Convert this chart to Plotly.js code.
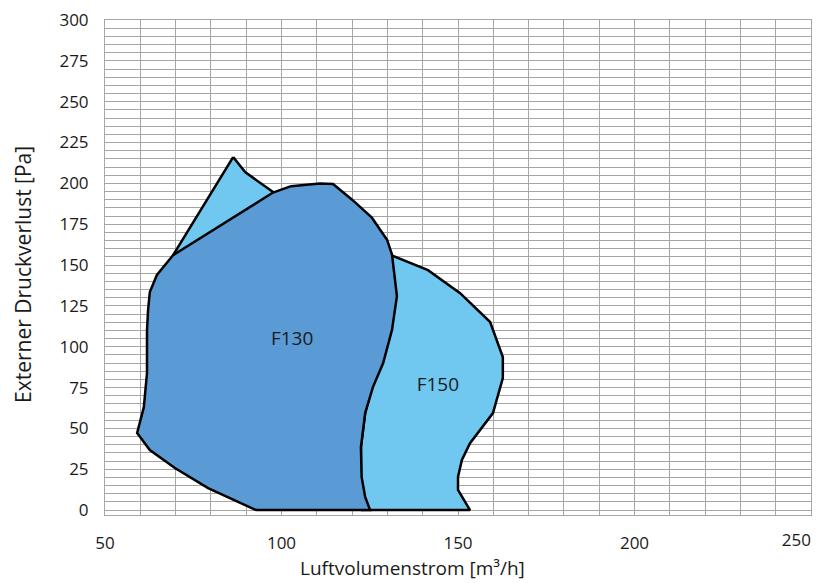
<!DOCTYPE html>
<html>
<head>
<meta charset="utf-8">
<script src="https://cdn.plot.ly/plotly-3.0.1.min.js"></script>
<style>html,body{margin:0;padding:0;background:#fff;}#chart{width:819px;height:583px;}</style>
</head>
<body>
<div id="chart"></div>
<script>
// F150 envelope (light blue), drawn first
const f150X = [86.3, 89.7, 97.6, 127.9, 131.0, 141.5, 150.6, 159.1, 162.7, 162.7, 159.9, 156.8, 153.4, 151.1, 150.0, 150.0, 153.4, 122.8, 122.5, 122.5, 123.7, 125.9, 69.3, 86.3];
const f150Y = [216.1, 206.9, 194.7, 159.2, 156.1, 146.9, 132.8, 115.1, 93.7, 80.8, 59.4, 50.8, 41.0, 30.7, 20.3, 12.3, 0, 0, 20.3, 38.6, 59.4, 77.7, 156.1, 216.1];

// F130 envelope (dark blue), drawn on top
const f130X = [92.8, 79.2, 69.8, 62.7, 59.1, 61.0, 61.9, 61.9, 62.2, 62.7, 64.7, 69.3, 97.6, 102.7, 110.9, 114.6, 120.0, 125.6, 129.9, 131.3, 132.7, 131.3, 128.8, 125.9, 123.7, 122.5, 122.7, 123.7, 125.1, 92.8];
const f130Y = [0, 13.5, 25.8, 36.8, 47.2, 63.0, 83.9, 110.2, 122.5, 133.5, 143.9, 156.1, 194.4, 198.3, 199.9, 199.6, 190.0, 179.0, 165.5, 156.4, 131.0, 110.2, 90.0, 75.3, 59.4, 38.6, 20.3, 8.0, 0, 0];

const labelNames = ["F130", "F150"];
const labelX = [103, 144.3];
const labelY = [104, 76];

const xTickVals = [50, 100, 150, 200];
const xTickText = ["50", "100", "150", "200"];
const xEndTickVals = [250];
const xEndTickText = ["250"];
const yTickVals = [0, 25, 50, 75, 100, 125, 150, 175, 200, 225, 250, 275, 300];

const xTitle = 'Luftvolumenstrom [m³/h]';
const yTitle = 'Externer Druckverlust [Pa]';

const font = "'Open Sans', 'Noto Sans', sans-serif";

const traces = [
  {x: f150X, y: f150Y, type: 'scatter', mode: 'lines', fill: 'toself',
   fillcolor: 'rgb(112,200,240)', line: {color: '#000', width: 2.5}, hoverinfo: 'skip', showlegend: false},
  {x: f130X, y: f130Y, type: 'scatter', mode: 'lines', fill: 'toself',
   fillcolor: 'rgb(91,155,213)', line: {color: '#000', width: 2.5}, hoverinfo: 'skip', showlegend: false},
  {x: labelX, y: labelY, text: labelNames, type: 'scatter', mode: 'text', xaxis: 'x2', yaxis: 'y',
   textfont: {family: font, size: 19, color: '#1a1a1a'}, hoverinfo: 'skip', showlegend: false}
];

const layout = {
  width: 819, height: 583,
  margin: {l: 105, r: 8, t: 20, b: 68},
  paper_bgcolor: '#fff', plot_bgcolor: '#fff',
  showlegend: false,
  font: {family: font, size: 17, color: '#1a1a1a'},
  xaxis: {
    range: [50, 250], tickvals: xTickVals, ticktext: xTickText,
    showgrid: true, gridcolor: '#a6a6a6', gridwidth: 1,
    minor: {dtick: 10, tick0: 50, showgrid: true, gridcolor: '#a6a6a6', gridwidth: 1},
    showline: true, linecolor: '#a6a6a6', linewidth: 1, mirror: true,
    zeroline: false, ticks: '', ticklabelstandoff: 13,
    tickfont: {family: font, size: 17, color: '#1a1a1a'}
  },
  xaxis2: {
    range: [50, 250], overlaying: 'x', anchor: 'y', side: 'bottom',
    tickvals: xEndTickVals, ticktext: xEndTickText,
    showgrid: false, showline: false, zeroline: false, ticks: '',
    ticklabelposition: 'outside left', ticklabeloverflow: 'allow', ticklabelstandoff: 13,
    tickfont: {family: font, size: 17, color: '#1a1a1a'}
  },
  yaxis: {
    range: [-3, 300], tickvals: yTickVals,
    showgrid: true, gridcolor: '#a6a6a6', gridwidth: 1,
    minor: {dtick: 5, tick0: 0, showgrid: true, gridcolor: '#a6a6a6', gridwidth: 1},
    showline: true, linecolor: '#a6a6a6', linewidth: 1, mirror: true,
    zeroline: false, ticks: '', ticklabelstandoff: 12,
    tickfont: {family: font, size: 17, color: '#1a1a1a'}
  },
  annotations: [
    {text: xTitle, xref: 'paper', yref: 'paper', x: 0.435, y: 0, yshift: -53,
     xanchor: 'center', yanchor: 'middle', showarrow: false,
     font: {family: font, size: 19, color: '#1a1a1a'}},
    {text: yTitle, xref: 'paper', yref: 'paper', x: 0, y: 0.485, xshift: -82,
     xanchor: 'center', yanchor: 'middle', textangle: -90, showarrow: false,
     font: {family: font, size: 21, color: '#1a1a1a'}}
  ]
};

Plotly.newPlot('chart', traces, layout, {displayModeBar: false, staticPlot: true});
</script>
</body>
</html>
